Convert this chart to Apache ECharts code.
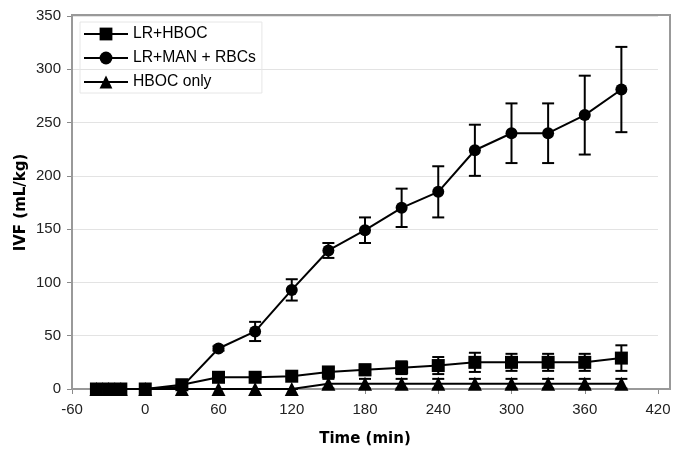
<!DOCTYPE html>
<html>
<head>
<meta charset="utf-8">
<script src="https://cdn.jsdelivr.net/npm/echarts@6/dist/echarts.min.js"></script>
<style>
  html, body { margin: 0; padding: 0; background: #fff; }
  #chart { width: 682px; height: 449px; }
</style>
</head>
<body>
<div id="chart"></div>
<script>
// time points (min)
const times = [-40, -30, -20, 0, 30, 60, 90, 120, 150, 180, 210, 240, 270, 300, 330, 360, 390];
// LR+HBOC (squares)
const lrHboc = [0, 0, 0, 0, 4, 11, 11, 12, 16, 18, 20, 22, 25, 25, 25, 25, 29];
const lrHbocSd = [0, 0, 0, 0, 1, 2, 2, 2, 4, 5, 6, 8, 9, 8, 8, 8, 12];
// LR+MAN + RBCs (circles)
const lrMan = [0, 0, 0, 0, 2, 38, 54, 93, 130, 149, 170, 185, 224, 240, 240, 257, 281];
const lrManSd = [0, 0, 0, 0, 0, 2, 9, 10, 7, 12, 18, 24, 24, 28, 28, 37, 40];
// HBOC only (triangles)
const hbocOnly = [0, 0, 0, 0, 0, 0, 0, 0, 5, 5, 5, 5, 5, 5, 5, 5, 5];
const hbocOnlySd = [0, 0, 0, 0, 0, 0, 0, 0, 4.5, 4.5, 4.5, 4.5, 4.5, 4.5, 4.5, 4.5, 4.5];

const xTicks = { min: -60, max: 420, step: 60 };
const yTicks = { min: 0, max: 350, step: 50 };

const chart = echarts.init(document.getElementById("chart"));

function pts(vals) {
  return times.map((t, i) => [t, vals[i]]);
}
function errs(vals, sd) {
  return times.map((t, i) => [t, vals[i] - sd[i], vals[i] + sd[i]]);
}

// 误差线
function errorBar(params, api) {
  const x = api.value(0);
  const lo = api.coord([x, api.value(1)]);
  const hi = api.coord([x, api.value(2)]);
  const w = 6;
  const style = { stroke: "#000", lineWidth: 2 };
  return {
    type: "group",
    children: [
      { type: "line", shape: { x1: hi[0], y1: hi[1], x2: lo[0], y2: lo[1] }, style: style },
      { type: "line", shape: { x1: hi[0] - w, y1: hi[1], x2: hi[0] + w, y2: hi[1] }, style: style },
      { type: "line", shape: { x1: lo[0] - w, y1: lo[1], x2: lo[0] + w, y2: lo[1] }, style: style }
    ]
  };
}

const axisLabelStyle = { color: "#222", fontSize: 15, fontFamily: "Liberation Sans, Arial, sans-serif" };
const lineBase = {
  type: "line",
  lineStyle: { color: "#000", width: 2 },
  itemStyle: { color: "#000" },
  emphasis: { disabled: true },
  animation: false
};

const option = {
  animation: false,
  grid: { left: 72, right: 24, top: 16, bottom: 60, containLabel: false, outerBoundsMode: "none" },
  legend: {
    orient: "vertical",
    left: 80,
    top: 22,
    itemWidth: 44,
    itemHeight: 16,
    itemGap: 8,
    padding: [4, 6, 3, 3],
    borderColor: "#e6e6e6",
    borderWidth: 1,
    textStyle: { color: "#000", fontSize: 15.7, fontFamily: "Liberation Sans, Arial, sans-serif" },
    data: ["LR+HBOC", "LR+MAN + RBCs", "HBOC only"]
  },
  xAxis: {
    type: "value",
    min: xTicks.min,
    max: xTicks.max,
    interval: xTicks.step,
    name: "Time (min)",
    nameLocation: "middle",
    nameGap: 43,
    nameMoveOverlap: false,
    nameTextStyle: { color: "#000", fontSize: 15, fontWeight: "bold", fontFamily: "DejaVu Sans, Verdana, sans-serif" },
    axisLine: { show: true, onZero: false, lineStyle: { color: "#8a8a8a", width: 2 } },
    axisTick: { show: true, length: 5, lineStyle: { color: "#8a8a8a" } },
    axisLabel: Object.assign({ margin: 13 }, axisLabelStyle),
    splitLine: { show: false }
  },
  yAxis: {
    type: "value",
    min: yTicks.min,
    max: yTicks.max,
    interval: yTicks.step,
    name: "IVF (mL/kg)",
    nameLocation: "middle",
    nameGap: 43,
    nameMoveOverlap: false,
    nameTextStyle: { color: "#000", fontSize: 15, fontWeight: "bold", fontFamily: "DejaVu Sans, Verdana, sans-serif" },
    axisLine: { show: true, onZero: false, lineStyle: { color: "#8a8a8a", width: 2 } },
    axisTick: { show: true, length: 5, lineStyle: { color: "#8a8a8a" } },
    axisLabel: Object.assign({ margin: 11 }, axisLabelStyle),
    splitLine: { show: true, lineStyle: { color: "#e3e3e3", width: 1 } }
  },
  graphic: [
    {
      type: "rect",
      z: 1,
      silent: true,
      shape: { x: 72, y: 15, width: 598, height: 374 },
      style: { fill: "none", stroke: "#999", lineWidth: 2 }
    }
  ],
  series: [
    Object.assign({}, lineBase, {
      name: "LR+MAN + RBCs",
      symbol: "circle",
      symbolSize: 12,
      z: 2,
      data: pts(lrMan)
    }),
    Object.assign({}, lineBase, {
      name: "HBOC only",
      symbol: "triangle",
      symbolSize: 14,
      z: 3,
      data: pts(hbocOnly)
    }),
    Object.assign({}, lineBase, {
      name: "LR+HBOC",
      symbol: "rect",
      symbolSize: 13,
      z: 4,
      data: pts(lrHboc)
    }),
    { type: "custom", name: "LR+MAN + RBCs", renderItem: errorBar, data: errs(lrMan, lrManSd), z: 2, silent: true },
    { type: "custom", name: "HBOC only", renderItem: errorBar, data: errs(hbocOnly, hbocOnlySd), z: 3, silent: true },
    { type: "custom", name: "LR+HBOC", renderItem: errorBar, data: errs(lrHboc, lrHbocSd), z: 4, silent: true }
  ]
};

chart.setOption(option);
</script>
</body>
</html>
